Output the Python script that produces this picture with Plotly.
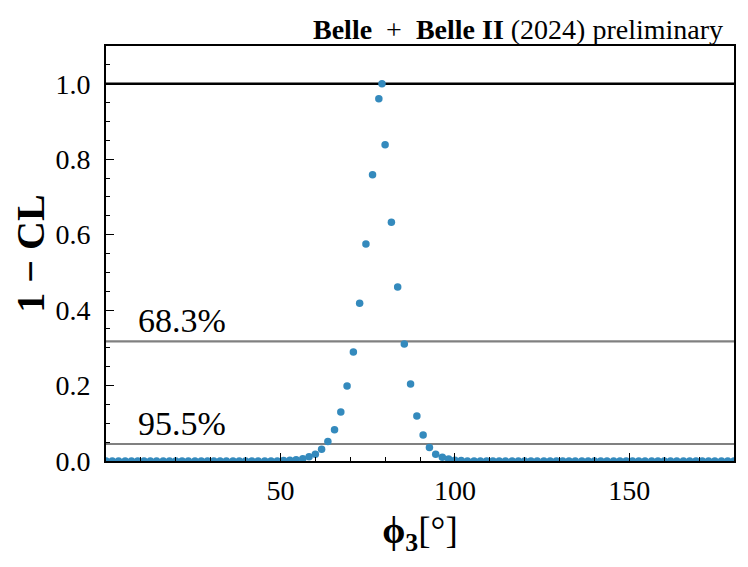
"""
1 - CL scan of phi3, Belle + Belle II (2024) preliminary.
"""

import plotly.graph_objects as go

# scan points (deg) and 1 - CL values
phi3 = [
    0.0, 1.8, 3.6, 5.5, 7.3, 9.1, 10.9, 12.7, 14.5, 16.4,
    18.2, 20.0, 21.8, 23.6, 25.5, 27.3, 29.1, 30.9, 32.7, 34.5,
    36.4, 38.2, 40.0, 41.8, 43.6, 45.5, 47.3, 49.1, 50.9, 52.7,
    54.5, 56.4, 58.2, 60.0, 61.8, 63.6, 65.5, 67.3, 69.1, 70.9,
    72.7, 74.5, 76.4, 78.2, 79.1, 80.0, 81.8, 83.6, 85.5, 87.3,
    89.1, 90.9, 92.7, 94.5, 96.4, 98.2, 100.0, 101.8, 103.6, 105.5,
    107.3, 109.1, 110.9, 112.7, 114.5, 116.4, 118.2, 120.0, 121.8, 123.6,
    125.5, 127.3, 129.1, 130.9, 132.7, 134.5, 136.4, 138.2, 140.0, 141.8,
    143.6, 145.5, 147.3, 149.1, 150.9, 152.7, 154.5, 156.4, 158.2, 160.0,
    161.8, 163.6, 165.5, 167.3, 169.1, 170.9, 172.7, 174.5, 176.4, 178.2,
    180.0,
]
one_minus_cl = [
    0.0, 0.0, 0.0, 0.0, 0.0, 0.0, 0.0, 0.0, 0.0, 0.0,
    0.0, 0.0, 0.0, 0.0, 0.0, 0.0, 0.0, 0.0, 0.0, 0.0,
    0.0, 0.0, 0.0, 0.0, 0.0, 0.0, 0.0, 0.0, 0.001, 0.002,
    0.003, 0.006, 0.011, 0.018, 0.031, 0.052, 0.083, 0.130, 0.199, 0.289,
    0.418, 0.575, 0.759, 0.960, 1.000, 0.838, 0.633, 0.461, 0.310, 0.204,
    0.119, 0.069, 0.036, 0.018, 0.010, 0.005, 0.002, 0.001, 0.0, 0.0,
    0.0, 0.0, 0.0, 0.0, 0.0, 0.0, 0.0, 0.0, 0.0, 0.0,
    0.0, 0.0, 0.0, 0.0, 0.0, 0.0, 0.0, 0.0, 0.0, 0.0,
    0.0, 0.0, 0.0, 0.0, 0.0, 0.0, 0.0, 0.0, 0.0, 0.0,
    0.0, 0.0, 0.0, 0.0, 0.0, 0.0, 0.0, 0.0, 0.0, 0.0,
    0.0,
]

# confidence levels drawn as horizontal lines
cl_levels = [0.317, 0.045]
cl_labels = ["68.3%", "95.5%"]

x_ticks = [50, 100, 150]
x_minor = [10, 20, 30, 40, 60, 70, 80, 90, 110, 120, 130, 140, 160, 170]
y_ticks = [0.0, 0.2, 0.4, 0.6, 0.8, 1.0]
y_minor = [0.05, 0.1, 0.15, 0.25, 0.3, 0.35, 0.45, 0.5, 0.55,
           0.65, 0.7, 0.75, 0.85, 0.9, 0.95, 1.05]

FONT = "Liberation Serif"

fig = go.Figure()

# reference lines
fig.add_hline(y=1.0, line=dict(color="black", width=2.5), layer="below")
for lvl in cl_levels:
    fig.add_hline(y=lvl, line=dict(color="#808080", width=2.2), layer="below")

fig.add_trace(go.Scatter(
    x=phi3, y=one_minus_cl, mode="markers",
    marker=dict(color="#348ABD", size=7.5, line=dict(width=0)),
    showlegend=False,
))

for lvl, lab in zip(cl_levels, cl_labels):
    fig.add_annotation(x=8.5, y=lvl, text=lab, showarrow=False,
                       xanchor="left", yanchor="bottom", yshift=0,
                       font=dict(family=FONT, size=34, color="black"))

fig.add_annotation(xref="paper", yref="paper", x=1, y=1,
                   xanchor="right", yanchor="bottom", xshift=-9, yshift=-1,
                   text="<b>Belle</b>  +  <b>Belle II</b> (2024) preliminary",
                   showarrow=False, font=dict(family=FONT, size=28, color="black"))

axis_common = dict(
    showline=True, linecolor="black", linewidth=1.6, mirror=True,
    showgrid=False, zeroline=False, ticks="inside", ticklen=8, tickwidth=1.4,
    tickcolor="black", tickfont=dict(family=FONT, size=28, color="black"),
)

fig.update_xaxes(
    range=[0, 180], tickvals=x_ticks, ticklabelstandoff=4,
    minor=dict(tickvals=x_minor, ticks="inside", ticklen=4, tickwidth=1.2, tickcolor="black"),
    title=dict(text="<b>ϕ<sub>3</sub></b>[°]", font=dict(family=FONT, size=37, color="black"),
               standoff=12),
    **axis_common,
)
fig.update_yaxes(
    range=[0, 1.1], tickvals=y_ticks, ticktext=["0.0", "0.2", "0.4", "0.6", "0.8", "1.0"],
    ticklabelstandoff=8,
    minor=dict(tickvals=y_minor, ticks="inside", ticklen=4, tickwidth=1.2, tickcolor="black"),
    title=dict(text="<b>1 − CL</b>", font=dict(family=FONT, size=40, color="black"),
               standoff=8),
    **axis_common,
)

# the page body adds an 8 px offset, so the figure is a bit smaller than the window
fig.update_layout(
    width=740, height=559,
    margin=dict(l=97, r=13, t=38, b=106),
    paper_bgcolor="white", plot_bgcolor="white",
)

fig.write_html("out.html")
